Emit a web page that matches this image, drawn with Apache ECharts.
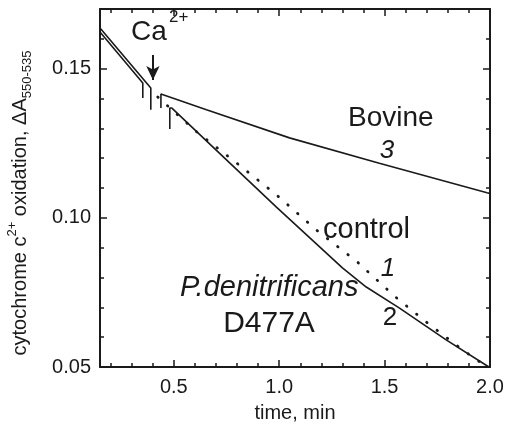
<!DOCTYPE html>
<html>
<head>
<meta charset="utf-8">
<script src="https://cdn.jsdelivr.net/npm/echarts@6/dist/echarts.min.js"></script>
<style>
  html, body { margin: 0; padding: 0; background: #fff; }
  #main { width: 506px; height: 432px; }
</style>
</head>
<body>
<div id="main"></div>
<script>
// traces: [time (min), absorbance]
const preA = [[0.15, 0.1636], [0.391, 0.1435], [0.391, 0.1362]];
const preB = [[0.15, 0.1623], [0.353, 0.1452], [0.353, 0.1402]];
const bovine = [[0.439, 0.1368], [0.439, 0.1415], [0.443, 0.1419], [0.655, 0.1362],
  [1.049, 0.1268], [1.475, 0.1183], [1.986, 0.1084], [2.0, 0.1082]];
const d477a = [[0.481, 0.1298], [0.481, 0.1368], [0.491, 0.1368], [0.765, 0.1184],
  [0.987, 0.1036], [1.300, 0.0832], [1.413, 0.0768], [1.569, 0.0698],
  [1.792, 0.0591], [1.995, 0.0500]];
const control = [[0.424, 0.1405], [0.609, 0.1288], [0.803, 0.1181], [0.987, 0.1077],
  [1.177, 0.0959], [1.371, 0.0852], [1.546, 0.0738], [1.692, 0.0654],
  [1.839, 0.0574], [1.938, 0.0523], [1.995, 0.0500]];
const caArrow = [[0.401, 0.1546], [0.401, 0.1462]];

const xMajor = [0.5, 1.0, 1.5, 2.0];
const xMinor = [0.2, 0.3, 0.4, 0.6, 0.7, 0.8, 0.9, 1.1, 1.2, 1.3, 1.4, 1.6, 1.7, 1.8, 1.9];
const yMajor = [0.05, 0.10, 0.15];
const yMinor = [0.06, 0.07, 0.08, 0.09, 0.11, 0.12, 0.13, 0.14, 0.16];

const ink = '#1a1a1a';
const font = 'Liberation Sans, Arial, sans-serif';

const xAx = (pos, ticks, len, withLine, withLabel) => ({
  type: 'value', position: pos, min: 0.15, max: 2.0,
  axisLine: { show: withLine, lineStyle: { color: ink, width: 2 } },
  axisTick: { show: true, inside: true, length: len, customValues: ticks,
    lineStyle: { color: ink, width: 1.5 } },
  axisLabel: withLabel ? { show: true, customValues: ticks, margin: 10,
    formatter: v => v.toFixed(1), fontSize: 20, color: ink, fontFamily: font } : { show: false },
  splitLine: { show: false }
});
const yAx = (pos, ticks, len, withLine, withLabel) => ({
  type: 'value', position: pos, min: 0.05, max: 0.17,
  axisLine: { show: withLine, lineStyle: { color: ink, width: 2 } },
  axisTick: { show: true, inside: true, length: len, customValues: ticks,
    lineStyle: { color: ink, width: 1.5 } },
  axisLabel: withLabel ? { show: true, customValues: ticks, margin: 9,
    formatter: v => v.toFixed(2), fontSize: 20, color: ink, fontFamily: font } : { show: false },
  splitLine: { show: false }
});

const xAxes = [
  xAx('bottom', xMajor, 7, true, true),
  xAx('bottom', xMinor, 4, false, false),
  xAx('top', xMajor, 7, true, false),
  xAx('top', xMinor, 4, false, false)
];
xAxes[0].name = 'time, min';
xAxes[0].nameLocation = 'middle';
xAxes[0].nameGap = 36;
xAxes[0].nameTextStyle = { fontSize: 20, color: ink, fontFamily: font };

const yAxes = [
  yAx('left', yMajor, 7, true, true),
  yAx('left', yMinor, 4, false, false),
  yAx('right', yMajor, 7, true, false),
  yAx('right', yMinor, 4, false, false)
];
yAxes[0].name = '{n|cytochrome c}{sup|2+}{n| oxidation, ΔA}{sub|550-535}';
yAxes[0].nameLocation = 'middle';
yAxes[0].nameRotate = 90;
yAxes[0].nameGap = 66;
yAxes[0].nameTextStyle = {
  color: ink, fontFamily: font, padding: [0, 30, 0, 0],
  rich: {
    n: { fontSize: 20, lineHeight: 28, color: ink, fontFamily: font, verticalAlign: 'middle' },
    sup: { fontSize: 13, color: ink, fontFamily: font, verticalAlign: 'top' },
    sub: { fontSize: 13, color: ink, fontFamily: font, verticalAlign: 'bottom' }
  }
};

const solid = (data) => ({
  type: 'line', data: data, xAxisIndex: 0, yAxisIndex: 0,
  showSymbol: false, symbol: 'none', smooth: false, animation: false,
  lineStyle: { color: ink, width: 1.6 }
});

const series = [
  solid(preA),
  solid(preB),
  solid(bovine),
  solid(d477a),
  {
    type: 'line', data: control, xAxisIndex: 0, yAxisIndex: 0,
    showSymbol: false, symbol: 'none', animation: false,
    lineStyle: { color: ink, width: 2.8, type: [0.5, 12.5], cap: 'round' }
  },
  {
    type: 'line', data: [], xAxisIndex: 0, yAxisIndex: 0, animation: false,
    markLine: {
      silent: true, symbol: ['none', 'arrow'], symbolSize: [10, 14],
      label: { show: false },
      lineStyle: { color: ink, width: 2, type: 'solid' },
      data: [[{ coord: caArrow[0] }, { coord: caArrow[1] }]]
    }
  }
];

const txt = (text, x, y, size, opts) => ({
  type: 'text', x: x, y: y, silent: true,
  style: Object.assign({ text: text, fontSize: size, fontFamily: font, fill: ink,
    verticalAlign: 'middle', align: 'left' }, opts || {})
});

const chart = echarts.init(document.getElementById('main'), null, { renderer: 'canvas' });
chart.setOption({
  backgroundColor: '#fff',
  animation: false,
  grid: { left: 100, right: 16, top: 9, bottom: 65, containLabel: false, outerBoundsMode: 'none' },
  xAxis: xAxes,
  yAxis: yAxes,
  series: series,
  graphic: [
    txt('Ca', 131, 32, 28),
    txt('2+', 169, 17, 17),
    txt('Bovine', 348, 118, 28),
    txt('3', 387, 151, 26, { fontStyle: 'italic', align: 'center' }),
    txt('control', 323, 230, 29),
    txt('1', 388, 269, 26, { fontStyle: 'italic', align: 'center' }),
    txt('P.denitrificans', 180, 288, 29, { fontStyle: 'italic' }),
    txt('D477A', 269, 324, 30, { align: 'center' }),
    txt('2', 390, 318, 26, { align: 'center' })
  ]
});
</script>
</body>
</html>
